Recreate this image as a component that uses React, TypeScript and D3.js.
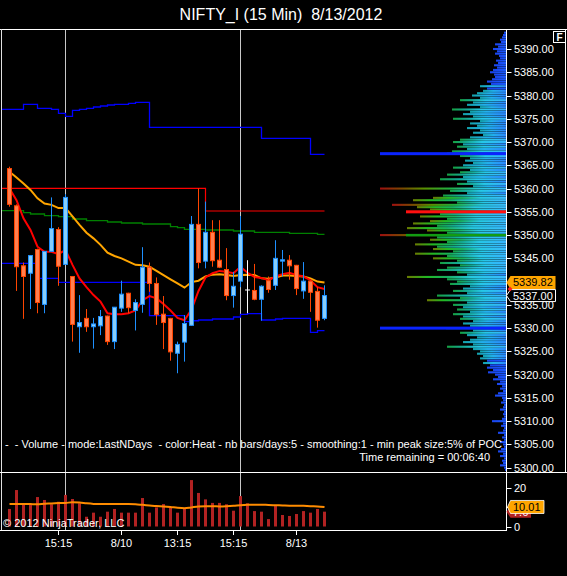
import React from 'react';
import * as d3 from 'd3';

const W = 567;
const H = 576;
const FONT = "'Liberation Sans', Arial, Helvetica, sans-serif";

// ---- 15 min candles (46 bars) ----
const opens = [5364.3, 5356.3, 5343.4, 5341.8, 5346.9, 5335.1, 5346.5, 5351.2, 5343.7, 5341.1, 5330.3, 5332.1, 5330.3, 5330.5, 5332.6, 5327.1, 5334.3, 5337.5, 5333.8, 5335.1, 5343.1, 5339.6, 5333.0, 5332.1, 5324.6, 5327.0, 5330.6, 5352.3, 5344.4, 5350.6, 5344.6, 5342.6, 5337.0, 5340.1, 5338.2, 5338.1, 5336.2, 5340.2, 5339.2, 5344.4, 5344.6, 5343.5, 5338.0, 5340.1, 5337.9, 5332.1];
const highs = [5364.7, 5356.6, 5344.1, 5345.7, 5347.1, 5346.5, 5358.1, 5351.7, 5358.8, 5341.2, 5337.1, 5334.1, 5332.2, 5333.9, 5332.7, 5334.5, 5340.2, 5337.6, 5336.2, 5347.4, 5344.1, 5340.9, 5336.9, 5332.2, 5327.1, 5332.8, 5354.1, 5360.05, 5357.2, 5353.2, 5353.2, 5347.2, 5342.1, 5354.1, 5344.6, 5343.8, 5339.2, 5341.1, 5348.9, 5346.8, 5345.7, 5343.6, 5344.2, 5340.2, 5338.8, 5339.2];
const lows = [5356.1, 5338.0, 5332.0, 5334.1, 5333.2, 5333.2, 5346.4, 5339.1, 5343.6, 5327.1, 5324.7, 5329.2, 5325.6, 5328.5, 5326.4, 5325.5, 5333.5, 5333.2, 5329.5, 5333.3, 5337.8, 5330.7, 5325.5, 5323.0, 5320.3, 5322.8, 5330.5, 5342.85, 5342.85, 5343.2, 5342.9, 5336.0, 5334.4, 5338.8, 5333.2, 5336.0, 5331.6, 5337.6, 5338.2, 5341.1, 5340.4, 5337.1, 5336.3, 5333.5, 5330.1, 5331.7];
const closes = [5356.6, 5343.2, 5341.1, 5345.6, 5335.5, 5346.5, 5351.4, 5343.3, 5358.1, 5330.8, 5331.2, 5330.3, 5330.9, 5332.5, 5327.1, 5334.5, 5337.3, 5334.4, 5335.5, 5343.1, 5339.6, 5332.9, 5331.2, 5324.9, 5326.5, 5331.0, 5352.3, 5344.1, 5350.6, 5344.5, 5343.1, 5337.0, 5339.0, 5350.2, 5338.2, 5336.2, 5339.0, 5338.3, 5345.0, 5344.7, 5343.4, 5338.5, 5340.1, 5337.7, 5331.7, 5337.0];

// ---- indicators ----
const fastEma = [5360.0, 5357.5, 5353.6, 5351.1, 5347.5, 5346.4, 5346.4, 5345.9, 5346.8, 5343.6, 5340.7, 5338.8, 5337.1, 5335.7, 5333.2, 5333.0, 5333.0, 5333.2, 5333.8, 5336.0, 5336.9, 5336.4, 5335.2, 5333.8, 5332.2, 5331.7, 5334.0, 5338.0, 5340.9, 5341.8, 5342.3, 5342.1, 5341.8, 5343.2, 5341.9, 5341.0, 5340.8, 5340.3, 5341.1, 5341.6, 5341.9, 5341.4, 5341.1, 5340.3, 5338.8, 5338.4];
const slowEma = [5363.6, 5362.4, 5361.1, 5359.7, 5357.9, 5356.8, 5356.5, 5355.8, 5355.8, 5354.0, 5352.2, 5350.5, 5349.3, 5347.9, 5346.2, 5345.5, 5345.0, 5344.3, 5343.6, 5343.5, 5343.2, 5342.3, 5341.4, 5340.5, 5339.6, 5338.7, 5339.9, 5340.2, 5341.1, 5341.5, 5341.6, 5341.4, 5341.2, 5341.4, 5341.5, 5341.4, 5340.7, 5340.6, 5340.9, 5341.3, 5341.3, 5341.2, 5341.1, 5340.7, 5340.0, 5339.82];
const upperBand = [5377.04, 5377.04, 5378.11, 5378.11, 5377.25, 5377.25, 5377.04, 5376.18, 5375.53, 5376.82, 5377.04, 5377.25, 5377.53, 5377.75, 5377.96, 5378.11, 5378.11, 5378.33, 5378.54, 5378.54, 5373.17, 5373.17, 5373.17, 5373.17, 5373.17, 5373.17, 5373.17, 5373.17, 5373.17, 5373.17, 5373.17, 5373.17, 5373.17, 5373.17, 5373.17, 5373.17, 5370.8, 5370.8, 5370.8, 5370.8, 5370.8, 5370.8, 5370.8, 5367.36, 5367.36, 5367.36];
const lowerBand = [5343.93, 5343.93, 5343.93, 5343.93, 5340.71, 5340.71, 5340.71, 5339.85, 5339.85, 5339.85, 5339.85, 5339.85, 5339.85, 5339.85, 5339.85, 5339.85, 5339.85, 5339.85, 5339.85, 5339.85, 5332.67, 5332.67, 5332.67, 5332.67, 5332.67, 5331.38, 5331.59, 5331.75, 5331.75, 5331.96, 5331.96, 5331.96, 5332.39, 5332.97, 5333.14, 5333.14, 5331.75, 5331.75, 5331.96, 5332.11, 5332.11, 5332.11, 5332.11, 5329.1, 5329.45, 5329.45];
const midLine = [5355.24, 5355.24, 5354.81, 5354.53, 5354.53, 5354.17, 5354.17, 5353.95, 5353.95, 5353.46, 5353.46, 5353.09, 5353.09, 5353.09, 5352.81, 5352.81, 5352.6, 5352.6, 5352.6, 5352.38, 5352.38, 5352.38, 5352.38, 5351.8, 5351.59, 5351.24, 5351.24, 5351.24, 5351.09, 5351.09, 5351.09, 5351.09, 5350.88, 5350.88, 5350.88, 5350.6, 5350.6, 5350.6, 5350.6, 5350.6, 5350.38, 5350.38, 5350.38, 5350.38, 5350.17, 5350.17];
const redLevel = [5360.05, 5360.05, 5360.05, 5360.05, 5360.05, 5360.05, 5360.05, 5360.05, 5360.05, 5360.05, 5360.05, 5360.05, 5360.05, 5360.05, 5360.05, 5360.05, 5360.05, 5360.05, 5360.05, 5360.05, 5360.05, 5360.05, 5360.05, 5360.05, 5360.05, 5360.05, 5360.05, 5360.05, 5355.18, 5355.18, 5355.18, 5355.18, 5355.18, 5355.18, 5355.18, 5355.18, 5355.18, 5355.18, 5355.18, 5355.18, 5355.18, 5355.18, 5355.18, 5355.18, 5355.18, 5355.18];

// ---- volume ----
const volumes = [9.0, 18.7, 11.4, 11.0, 15.1, 13.6, 11.4, 12.7, 16.2, 14.1, 11.9, 5.0, 7.1, 5.0, 7.6, 9.0, 7.1, 7.1, 7.1, 14.6, 7.1, 9.8, 11.5, 9.8, 7.1, 9.0, 23.8, 17.2, 13.9, 12.1, 12.1, 11.4, 8.1, 15.6, 11.9, 7.9, 7.6, 3.8, 10.5, 5.9, 5.4, 6.4, 7.9, 7.1, 9.0, 7.6];
const volumeAvg = [11.5, 11.6, 11.6, 11.5, 11.4, 11.7, 11.8, 12.0, 12.1, 12.4, 12.3, 11.9, 11.6, 11.5, 11.5, 11.5, 11.5, 11.5, 11.4, 11.1, 10.8, 10.5, 10.3, 10.0, 9.6, 9.4, 9.8, 10.2, 10.4, 10.4, 10.3, 10.4, 10.6, 10.9, 11.1, 11.2, 11.2, 11.0, 10.9, 10.8, 10.7, 10.7, 10.6, 10.4, 10.3, 10.01];

// ---- axes ----
const sessionBreaks = [8, 33];
const timeTickIndex = [7, 16, 24, 32, 41];
const timeTickLabels = ['15:15', '8/10', '13:15', '15:15', '8/13'];
const priceTicks = d3.range(5300, 5391, 5);
const volumeTicks = [0, 20];

// ---- volume profile (0.5 pt levels from 5393.5 downward) ----
const profileTop = 5393.5;
const profileStep = 0.5;
const profileVolume = [
  2, 3, 4, 6, 5, 11, 8, 13, 9, 11, 7, 6, 10, 8, 12, 9, 13, 16, 12, 11,
  14, 19, 15, 26, 19, 23, 29, 34, 26, 46, 33, 39, 26, 54, 36, 43, 33, 53, 26, 36,
  29, 39, 26, 33, 23, 36, 46, 53, 43, 49, 39, 54, 59, 46, 36, 41, 33, 43, 53, 36,
  46, 59, 43, 66, 39, 49, 33, 126, 56, 39, 63, 73, 93, 49, 114, 89, 76, 100, 66, 86,
  59, 76, 93, 69, 99, 79, 59, 126, 69, 76, 59, 91, 69, 73, 53, 91, 59, 73, 49, 66,
  46, 59, 69, 49, 39, 99, 59, 49, 56, 36, 43, 53, 39, 69, 46, 79, 39, 53, 43, 49,
  36, 53, 43, 46, 33, 43, 36, 60, 33, 46, 39, 29, 36, 43, 33, 59, 33, 26, 29, 23,
  26, 19, 23, 16, 19, 13, 18, 11, 8, 13, 6, 9, 4, 6, 3, 8, 11, 4, 3, 5,
  2, 3, 6, 2, 3, 2, 4, 14, 3, 5, 2, 3, 8, 2, 4, 2, 6, 3, 2, 5,
  8, 3, 6, 2, 4, 3, 6, 2, 1,
];
const profilePeaks = [5367.5, 5330];
const profilePoc = 5355;
const profileSecond = 5350;

const lastPrice = 5337.0;

// ---- scales ----
const x = d3.scaleLinear().domain([0, 45]).range([9.5, 324.5]);
const y = d3.scaleLinear().domain([5300, 5390]).range([467.7, 49]);
const yv = d3.scaleLinear().domain([0, 20]).range([526.5, 487.5]);
const AXIS_X = 506.5;
const profLen = d3.scaleLinear().domain([0, 126]).range([0, 126]);

// heat gradients: [offset from axis (0) to bar end (1), colour]
const heatStops: [number, string][][] = [
  [[0, '#1a5aff'], [1, '#1a44ee']],
  [[0, '#2a88ff'], [0.55, '#22b0ec'], [1, '#12a0a8']],
  [[0, '#34b4ff'], [0.45, '#26c8e8'], [0.75, '#14a890'], [1, '#15a040']],
  [[0, '#38bcff'], [0.35, '#26c8e0'], [0.6, '#18b060'], [0.8, '#22b822'], [1, '#6a7a00']],
  [[0, '#38bcff'], [0.22, '#26c4d8'], [0.45, '#20b040'], [0.65, '#5a9000'], [0.82, '#7a4a00'], [1, '#a01010']],
];
const heatClass = (v: number) => (v < 20 ? 0 : v < 45 ? 1 : v < 70 ? 2 : v < 100 ? 3 : 4);

export default function App() {
  const stepLine = d3
    .line<[number, number]>()
    .x((d) => d[0])
    .y((d) => d[1])
    .curve(d3.curveStepAfter);
  const stepPts = (vals: number[]): [number, number][] => [
    [2, y(vals[0])],
    ...vals.map((v, i) => [x(i), y(v)] as [number, number]),
  ];
  const line = d3
    .line<number>()
    .x((_, i) => x(i))
    .y((v) => y(v));
  const volLine = d3
    .line<number>()
    .x((_, i) => x(i))
    .y((v) => yv(v))
    .curve(d3.curveMonotoneX);

  const fmt = d3.format('.2f');

  return (
    <svg
      width={W}
      height={H}
      style={{ position: 'absolute', left: 0, top: 0, background: '#000' }}
      fontFamily={FONT}
    >
      <defs>
        {heatStops.map((stops, k) => (
          <linearGradient key={k} id={`heat${k}`} x1="1" y1="0" x2="0" y2="0">
            {stops.map(([o, c], j) => (
              <stop key={j} offset={o} stopColor={c} />
            ))}
          </linearGradient>
        ))}
      </defs>
      <rect x={0} y={0} width={W} height={H} fill="#000" />

      {/* title */}
      <text x={281} y={20} fill="#fff" fontSize={16} textAnchor="middle" style={{ whiteSpace: 'pre' }}>
        {'NIFTY_I (15 Min)  8/13/2012'}
      </text>

      {/* session break lines */}
      {sessionBreaks.map((i) => (
        <line key={i} x1={x(i)} x2={x(i)} y1={29} y2={530} stroke="#c8c8c8" strokeWidth={1} />
      ))}

      {/* volume profile */}
      <g>
        {profileVolume.map((v, k) => {
          const p = profileTop - k * profileStep;
          const len = profLen(v);
          return (
            <rect
              key={k}
              x={AXIS_X - 0.5 - len}
              y={y(p) - 1.05}
              width={len}
              height={2.1}
              fill={`url(#heat${heatClass(v)})`}
            />
          );
        })}
        <rect x={AXIS_X - 0.5 - profLen(100)} y={y(profilePoc) - 1.5} width={profLen(100)} height={3} fill="#ff1010" />
        <rect x={AXIS_X - 0.5 - profLen(100)} y={y(profileSecond) - 1.2} width={profLen(100)} height={2.5} fill="#129c12" />
        {profilePeaks.map((p) => (
          <rect key={p} x={AXIS_X - 0.5 - profLen(126)} y={y(p) - 1.5} width={profLen(126)} height={3} fill="#0a24ff" />
        ))}
      </g>

      {/* indicator lines */}
      <path d={stepLine(stepPts(upperBand)) || ''} fill="none" stroke="#0000ff" strokeWidth={1.3} />
      <path d={stepLine(stepPts(lowerBand)) || ''} fill="none" stroke="#0000ff" strokeWidth={1.3} />
      <path d={stepLine(stepPts(midLine)) || ''} fill="none" stroke="#008000" strokeWidth={1.3} />
      <path d={stepLine(stepPts(redLevel)) || ''} fill="none" stroke="#ff0000" strokeWidth={1.2} />
      <path d={line(slowEma) || ''} fill="none" stroke="#ffa500" strokeWidth={2} />
      <path d={line(fastEma) || ''} fill="none" stroke="#ff0000" strokeWidth={2} />

      {/* candles */}
      {opens.map((o, i) => {
        const c = closes[i];
        const up = c > o;
        const doji = c === o;
        const wick = doji ? '#ffffff' : up ? '#1e90ff' : '#ff4500';
        const fill = up ? '#87cefa' : '#ff7f50';
        const cx = x(i);
        const top = y(Math.max(o, c));
        const bot = y(Math.min(o, c));
        return (
          <g key={i}>
            <line x1={cx} x2={cx} y1={y(highs[i])} y2={y(lows[i])} stroke={wick} strokeWidth={1} />
            {doji ? (
              <line x1={cx - 2.5} x2={cx + 2.5} y1={top} y2={top} stroke={wick} strokeWidth={1} />
            ) : (
              <rect
                x={cx - 2}
                y={top}
                width={4}
                height={Math.max(bot - top, 0.8)}
                fill={fill}
                stroke={wick}
                strokeWidth={1}
              />
            )}
          </g>
        );
      })}

      {/* volume panel */}
      {volumes.map((v, i) => (
        <rect key={i} x={x(i) - 1.5} y={yv(v)} width={3} height={yv(0) - yv(v)} fill="#b22222" />
      ))}
      <path d={volLine(volumeAvg) || ''} fill="none" stroke="#ff8c00" strokeWidth={2} />

      {/* frame */}
      <line x1={0} x2={W} y1={29.5} y2={29.5} stroke="#fff" strokeWidth={1} />
      <line x1={1.5} x2={1.5} y1={29} y2={530.5} stroke="#e0e0e0" strokeWidth={1} />
      <line x1={0} x2={W} y1={472.5} y2={472.5} stroke="#fff" strokeWidth={1} />
      <line x1={0} x2={AXIS_X} y1={530.5} y2={530.5} stroke="#fff" strokeWidth={1} />
      <line x1={AXIS_X} x2={AXIS_X} y1={29} y2={531} stroke="#fff" strokeWidth={1} />
      <line x1={565.5} x2={565.5} y1={29} y2={472} stroke="#fff" strokeWidth={1} />

      {/* price axis */}
      {priceTicks.map((p) => (
        <g key={p}>
          <line x1={AXIS_X} x2={AXIS_X + 5} y1={Math.round(y(p)) + 0.5} y2={Math.round(y(p)) + 0.5} stroke="#fff" />
          <text x={514} y={y(p) + 4} fill="#fff" fontSize={11}>
            {fmt(p)}
          </text>
        </g>
      ))}

      {/* volume axis */}
      {[0, 10, 20].map((v) => (
        <line key={v} x1={AXIS_X} x2={AXIS_X + 5} y1={Math.round(yv(v)) + 0.5} y2={Math.round(yv(v)) + 0.5} stroke="#fff" />
      ))}
      {volumeTicks.map((v) => (
        <text key={v} x={514} y={yv(v) + 4} fill="#fff" fontSize={11}>
          {v}
        </text>
      ))}

      {/* time axis */}
      {timeTickIndex.map((idx, k) => (
        <g key={k}>
          <line x1={x(idx)} x2={x(idx)} y1={530} y2={535} stroke="#fff" />
          <text x={x(idx)} y={547} fill="#fff" fontSize={11} textAnchor="middle">
            {timeTickLabels[k]}
          </text>
        </g>
      ))}

      {/* price markers */}
      <path
        d={`M${AXIS_X},${y(slowEma[45])} L${510.5},${y(slowEma[45]) - 6.5} L555.5,${y(slowEma[45]) - 6.5} L555.5,${y(slowEma[45]) + 6.5} L510.5,${y(slowEma[45]) + 6.5} Z`}
        fill="#ffa500"
      />
      <text x={513} y={y(slowEma[45]) + 4} fill="#000" fontSize={11}>
        {fmt(slowEma[45])}
      </text>
      <path
        d={`M${AXIS_X},${y(lastPrice)} L${510.5},${y(lastPrice) - 6} L555.5,${y(lastPrice) - 6} L555.5,${y(lastPrice) + 6} L510.5,${y(lastPrice) + 6} Z`}
        fill="#000"
        stroke="#fff"
        strokeWidth={1}
      />
      <text x={513} y={y(lastPrice) + 4} fill="#fff" fontSize={11}>
        {fmt(lastPrice)}
      </text>
      <path d={`M510,${y(lastPrice) - 9} l2.5,2.5 l-2.5,2.5 l-2.5,-2.5 Z`} fill="#ff2020" />

      {/* volume markers */}
      <path
        d={`M${AXIS_X},${yv(volumes[45])} L510.5,${yv(volumes[45]) - 5.5} L531,${yv(volumes[45]) - 5.5} L531,${yv(volumes[45]) + 6} L510.5,${yv(volumes[45]) + 6} Z`}
        fill="#b22222"
      />
      <text x={513} y={yv(volumes[45]) + 4} fill="#fff" fontSize={11}>
        {volumes[45]}
      </text>
      <path
        d={`M${AXIS_X + 1},${yv(volumeAvg[45])} L510.5,${yv(volumeAvg[45]) - 6.5} L544,${yv(volumeAvg[45]) - 6.5} L544,${yv(volumeAvg[45]) + 6.5} L510.5,${yv(volumeAvg[45]) + 6.5} Z`}
        fill="#ffa500"
        stroke="#fff"
        strokeWidth={0.8}
      />
      <text x={513} y={yv(volumeAvg[45]) + 4} fill="#000" fontSize={11}>
        {fmt(volumeAvg[45])}
      </text>

      {/* F button */}
      <rect x={553.5} y={31.5} width={12} height={11} fill="#000" stroke="#fff" strokeWidth={1} />
      <text x={559.5} y={41} fill="#fff" fontSize={10} fontWeight="bold" textAnchor="middle">
        F
      </text>

      {/* info texts */}
      <text x={502} y={448} fill="#fff" fontSize={11} textAnchor="end" style={{ whiteSpace: 'pre' }}>
        {'-  - Volume - mode:LastNDays  - color:Heat - nb bars/days:5 - smoothing:1 - min peak size:5% of POC'}
      </text>
      <text x={490} y={461} fill="#fff" fontSize={11} textAnchor="end">
        {'Time remaining = 00:06:40'}
      </text>
      <text x={3} y={527} fill="#fff" fontSize={11}>
        {'© 2012 NinjaTrader, LLC'}
      </text>
    </svg>
  );
}
